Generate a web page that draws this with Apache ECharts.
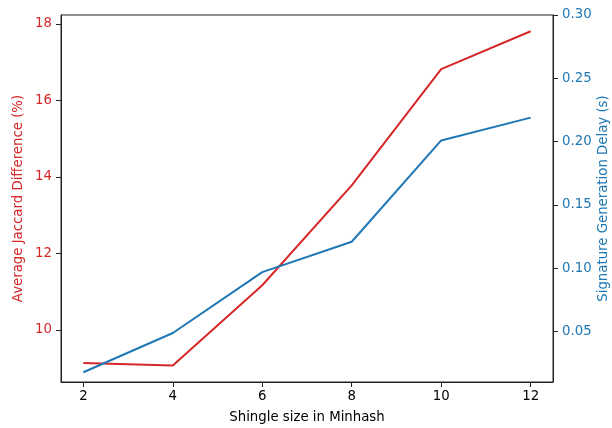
<!DOCTYPE html>
<html><head><meta charset="utf-8">
<script src="https://cdn.jsdelivr.net/npm/echarts@6/dist/echarts.min.js"></script>
<style>html,body{margin:0;padding:0;background:#fff}#c{width:612px;height:428px}</style>
</head><body><div id="c"></div>
<script>
const shingleSizes = [2, 4, 6, 8, 10, 12];
const jaccardDiff = [9.14, 9.07, 11.17, 13.78, 16.82, 17.81];
const sigDelay = [0.018, 0.049, 0.097, 0.121, 0.201, 0.219];
const xTicks = [2, 4, 6, 8, 10, 12];
const leftTicks = [10, 12, 14, 16, 18];
const rightTicks = [0.05, 0.10, 0.15, 0.20, 0.25, 0.30];

const RED = '#d62728', BLUE = '#1f77b4';
const FONT = 'DejaVu Sans';
const FS = 13.3;
const chart = echarts.init(document.getElementById('c'), null, {renderer: 'canvas'});
chart.setOption({
  animation: false,
  grid: {left: 61, right: 59, top: 15, bottom: 46, show: true, borderColor: '#222', borderWidth: 1,
    outerBoundsMode: 'none', containLabel: false},
  xAxis: {
    type: 'value', min: 1.5, max: 12.5,
    name: 'Shingle size in Minhash', nameLocation: 'middle', nameGap: 29,
    nameTextStyle: {color: '#000', fontSize: FS, fontFamily: FONT},
    axisLine: {show: true, lineStyle: {color: '#222', width: 1}},
    axisTick: {show: true, inside: false, length: 5, customValues: xTicks, lineStyle: {color: '#222'}},
    axisLabel: {customValues: xTicks, color: '#000', fontSize: FS, fontFamily: FONT, margin: 8},
    splitLine: {show: false}
  },
  yAxis: [{
    type: 'value', min: 8.64, max: 18.235, position: 'left',
    name: 'Average Jaccard Difference (%)', nameLocation: 'middle', nameGap: 36, nameRotate: 90,
    nameMoveOverlap: false,
    nameTextStyle: {color: RED, fontSize: FS, fontFamily: FONT},
    axisLine: {show: true, lineStyle: {color: '#222', width: 1}},
    axisTick: {show: true, length: 5, customValues: leftTicks, lineStyle: {color: '#222'}},
    axisLabel: {customValues: leftTicks, color: RED, fontSize: FS, fontFamily: FONT, margin: 9},
    splitLine: {show: false}
  }, {
    type: 'value', min: 0.0103, max: 0.30, position: 'right',
    name: 'Signature Generation Delay (s)', nameLocation: 'middle', nameGap: 44, nameRotate: 90,
    nameMoveOverlap: false,
    nameTextStyle: {color: BLUE, fontSize: FS, fontFamily: FONT},
    axisLine: {show: true, lineStyle: {color: '#222', width: 1}},
    axisTick: {show: true, length: 5, customValues: rightTicks, lineStyle: {color: '#222'}},
    axisLabel: {customValues: rightTicks, color: BLUE, fontSize: FS, fontFamily: FONT, margin: 9,
      formatter: v => v.toFixed(2)},
    splitLine: {show: false}
  }],
  series: [{
    type: 'line', yAxisIndex: 0, data: shingleSizes.map((x, i) => [x, jaccardDiff[i]]),
    showSymbol: false, lineStyle: {color: RED, width: 2}, itemStyle: {color: RED}
  }, {
    type: 'line', yAxisIndex: 1, data: shingleSizes.map((x, i) => [x, sigDelay[i]]),
    showSymbol: false, lineStyle: {color: BLUE, width: 2}, itemStyle: {color: BLUE}
  }]
});
</script></body></html>
